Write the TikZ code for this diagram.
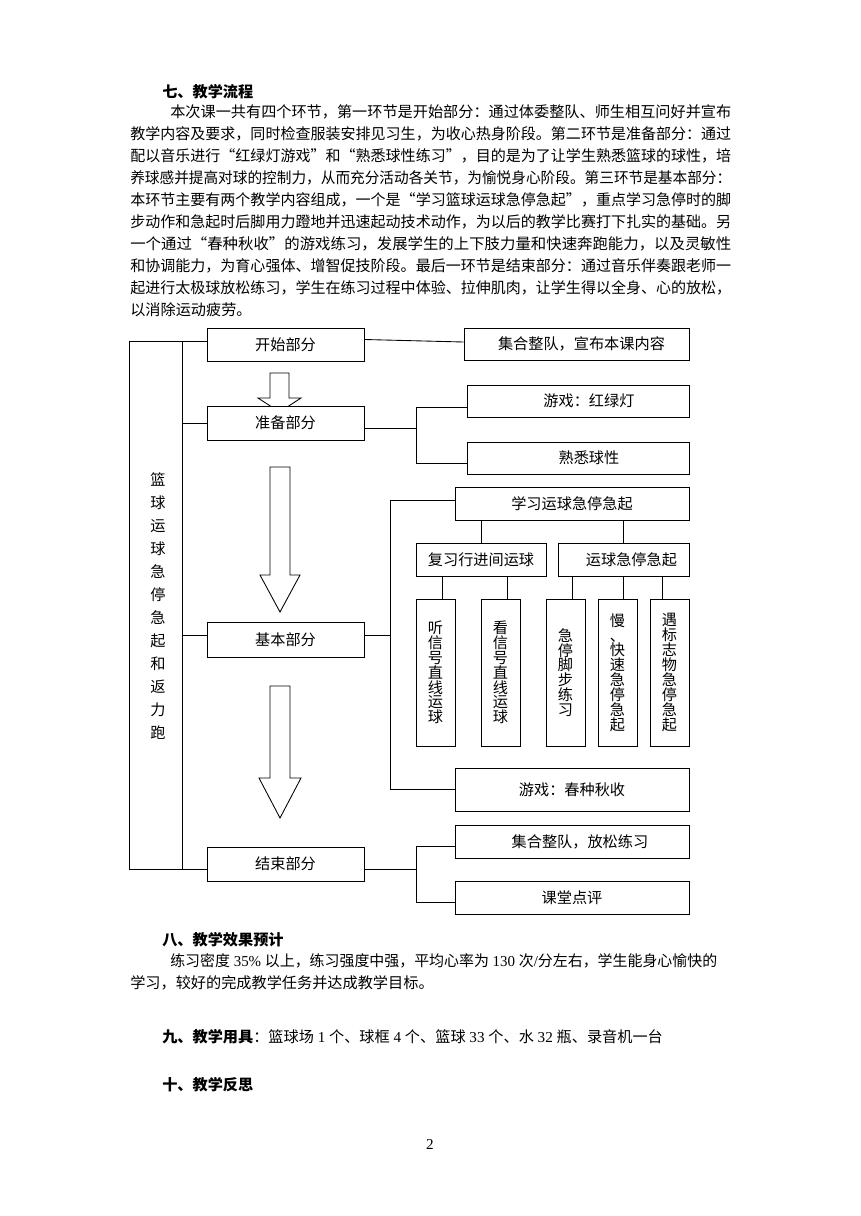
\documentclass[tikz,border=0pt]{standalone}
\usepackage{graphicx}
\usepackage{fontspec}
\setmainfont{Liberation Serif}
\newfontfamily\cjk{Noto Sans CJK SC}
\newfontfamily\lat{Liberation Serif}
\usetikzlibrary{calc}
\newcommand\pxu{0.6922pt}
\newcommand\ltx[1]{{\lat #1}}
\newcommand\jline[2]{\resizebox{#1}{\height}{#2}}
\lineskiplimit=-20pt
\begin{document}
\lineskiplimit=-20pt
\begin{tikzpicture}[x=0.6922pt,y=-0.6922pt,
  conn/.style={line width=0.6pt, draw=black},
  bx/.style 2 args={draw=black, line width=0.6pt, fill=white, inner sep=0pt,
    minimum width=#1*\pxu, minimum height=#2*\pxu,
    font=\cjk\fontsize{10.5}{12}\selectfont},
  leaf/.style={draw=black, line width=0.6pt, fill=white, inner sep=0pt,
    minimum width=39*\pxu, minimum height=147*\pxu, align=center,
    font=\cjk\fontsize{10.5}{10.3}\selectfont},
  para/.style={anchor=west, inner sep=0pt, font=\cjk\fontsize{10.5}{12}\selectfont},
  barrow/.style={draw=black, line width=0.6pt, fill=white}]
\useasboundingbox (0,0) rectangle (860,1216);
\fill[white] (0,0) rectangle (860,1216);

% ---------- text above ----------
\node[para] (t7) at (162,92) {\bfseries 七、教学流程};
\node[para] (p1) at (170,112) {\jline{388.3pt}{本次课一共有四个环节，第一环节是开始部分：通过体委整队、师生相互问好并宣布}};
\node[para] (p2) at (130,134) {\jline{416pt}{教学内容及要求，同时检查服装安排见习生，为收心热身阶段。第二环节是准备部分：通过}};
\node[para] (p3) at (130,156) {\jline{416pt}{配以音乐进行“红绿灯游戏”和“熟悉球性练习”，目的是为了让学生熟悉篮球的球性，培}};
\node[para] (p4) at (130,178) {\jline{416pt}{养球感并提高对球的控制力，从而充分活动各关节，为愉悦身心阶段。第三环节是基本部分：}};
\node[para] (p5) at (130,200) {\jline{416pt}{本环节主要有两个教学内容组成，一个是“学习篮球运球急停急起”，重点学习急停时的脚}};
\node[para] (p6) at (130,222) {\jline{416pt}{步动作和急起时后脚用力蹬地并迅速起动技术动作，为以后的教学比赛打下扎实的基础。另}};
\node[para] (p7) at (130,244) {\jline{416pt}{一个通过“春种秋收”的游戏练习，发展学生的上下肢力量和快速奔跑能力，以及灵敏性}};
\node[para] (p8) at (130,266) {\jline{416pt}{和协调能力，为育心强体、增智促技阶段。最后一环节是结束部分：通过音乐伴奏跟老师一}};
\node[para] (p9) at (130,288) {\jline{416pt}{起进行太极球放松练习，学生在练习过程中体验、拉伸肌肉，让学生得以全身、心的放松，}};
\node[para] (p10) at (130,310) {以消除运动疲劳。};

% ---------- block arrows (behind boxes) ----------
\draw[barrow] (270,373) -- (289,373) -- (289,398) -- (301,398) -- (279.5,412) -- (258,398) -- (270,398) -- cycle;
\draw[barrow] (270,467) -- (290,467) -- (290,575) -- (300,575) -- (280,612) -- (260,575) -- (270,575) -- cycle;
\draw[barrow] (270,686) -- (290,686) -- (290,778) -- (301,778) -- (280,818) -- (259,778) -- (270,778) -- cycle;

% ---------- main column ----------
\node[bx={157}{33}] (ks) at (285.5,344.5) {开始部分};
\node[bx={157}{34}] (zb) at (285.5,423) {准备部分};
\node[bx={157}{35}] (jb) at (285.5,639.5) {基本部分};
\node[bx={157}{34}] (js) at (285.5,864) {结束部分};

\node[inner sep=0pt, align=center, font=\cjk\fontsize{10.5}{15.9}\selectfont] (vt) at (158,606)
  {篮\\球\\运\\球\\急\\停\\急\\起\\和\\返\\力\\跑};

% ---------- right side ----------
\node[bx={225}{32}] (r0) at (576.5,344) {\hspace*{6.9pt}集合整队，宣布本课内容};
\node[bx={222}{32}] (r1) at (578,401) {\hspace*{15.2pt}游戏：红绿灯};
\node[bx={222}{32}] (r2) at (578,458) {\hspace*{15.2pt}熟悉球性};
\node[bx={234}{33}] (b0) at (572,503.5) {学习运球急停急起};
\node[bx={130}{33}] (b1) at (481,559.5) {复习行进间运球};
\node[bx={131}{33}] (b2) at (623.5,559.5) {\hspace*{11pt}运球急停急起};
\node[leaf] (l1) at (435.5,672.5) {听\\信\\号\\直\\线\\运\\球};
\node[leaf] (l2) at (500.5,672.5) {看\\信\\号\\直\\线\\运\\球};
\node[leaf] (l3) at (565.5,672.5) {急\\停\\脚\\步\\练\\习};
\node[leaf] (l4) at (617.5,672.5) {慢\\、\\快\\速\\急\\停\\急\\起};
\node[leaf] (l5) at (669.5,672.5) {遇\\标\\志\\物\\急\\停\\急\\起};
\node[bx={234}{43}] (b3) at (572,789.5) {游戏：春种秋收};
\node[bx={234}{33}] (e1) at (572,841.5) {\hspace*{11pt}集合整队，放松练习};
\node[bx={234}{33}] (e2) at (572,897.5) {课堂点评};

% ---------- left frame and trunk ----------
\coordinate (fa) at (129,341);
\coordinate (fb) at (129,869);
\coordinate (ta) at (182,341);
\coordinate (tb) at (182,869);
\draw[conn] (ks.west |- fa) -- (fa) -- (fb) -- (js.west |- fb);
\draw[conn] (ta) -- (tb);
\draw[conn] (zb.west) -- (zb.west -| ta);
\draw[conn] ($(jb.west)+(0,-4)$) -- ($(jb.west -| ta)+(0,-4)$);

% ---------- right connectors ----------
\draw[conn] ($(ks.east)+(0,-5)$) -- ($(r0.west)+(0,-2)$);

\coordinate (j1) at ($(zb.east)+(52,5)$);
\draw[conn] ($(zb.east)+(0,5)$) -- (j1);
\draw[conn] ($(r1.west)+(0,6)$) -| (j1);
\draw[conn] ($(r2.west)+(0,5)$) -| (j1);

\coordinate (j2) at ($(jb.east)+(26,-4)$);
\draw[conn] ($(jb.east)+(0,-4)$) -- (j2);
\draw[conn] ($(b0.west)+(0,-3)$) -| (j2);
\draw[conn] (b3.west) -| (j2);

\draw[conn] (b1.north) -- (b1.north |- b0.south);
\draw[conn] (b2.north) -- (b2.north |- b0.south);

\path ($(l1.north)+(6.5,0)$) coordinate (c1);
\path ($(l2.north)+(6.5,0)$) coordinate (c2);
\path ($(l3.north)+(6.5,0)$) coordinate (c3);
\path ($(l4.north)+(6,0)$) coordinate (c4);
\path ($(l5.north)+(-7.5,0)$) coordinate (c5);
\draw[conn] (c1) -- (c1 |- b1.south);
\draw[conn] (c2) -- (c2 |- b1.south);
\draw[conn] (c3) -- (c3 |- b2.south);
\draw[conn] (c4) -- (c4 |- b2.south);
\draw[conn] (c5) -- (c5 |- b2.south);

\coordinate (j3) at ($(js.east)+(52,5)$);
\draw[conn] ($(js.east)+(0,5)$) -- (j3);
\draw[conn] ($(e1.west)+(0,5)$) -| (j3);
\draw[conn] ($(e2.west)+(0,5)$) -| (j3);

% ---------- text below ----------
\node[para] (t8) at (162,940) {\bfseries 八、教学效果预计};
\node[para] (q1) at (170,961) {\jline{378.6pt}{练习密度\ltx{ 35\% }以上，练习强度中强，平均心率为\ltx{ 130 }次\ltx{/}分左右，学生能身心愉快的}};
\node[para] (q2) at (130,983) {学习，较好的完成教学任务并达成教学目标。};
\node[para] (t9) at (162,1037) {{\bfseries 九、教学用具}：篮球场\ltx{ 1 }个、球框\ltx{ 4 }个、篮球\ltx{ 33 }个、水\ltx{ 32 }瓶、录音机一台};
\node[para] (t10) at (162,1085) {\bfseries 十、教学反思};
\node[inner sep=0pt, font=\lat\fontsize{10.5}{12}\selectfont] (pg) at (430,1144) {2};
\end{tikzpicture}
\end{document}
